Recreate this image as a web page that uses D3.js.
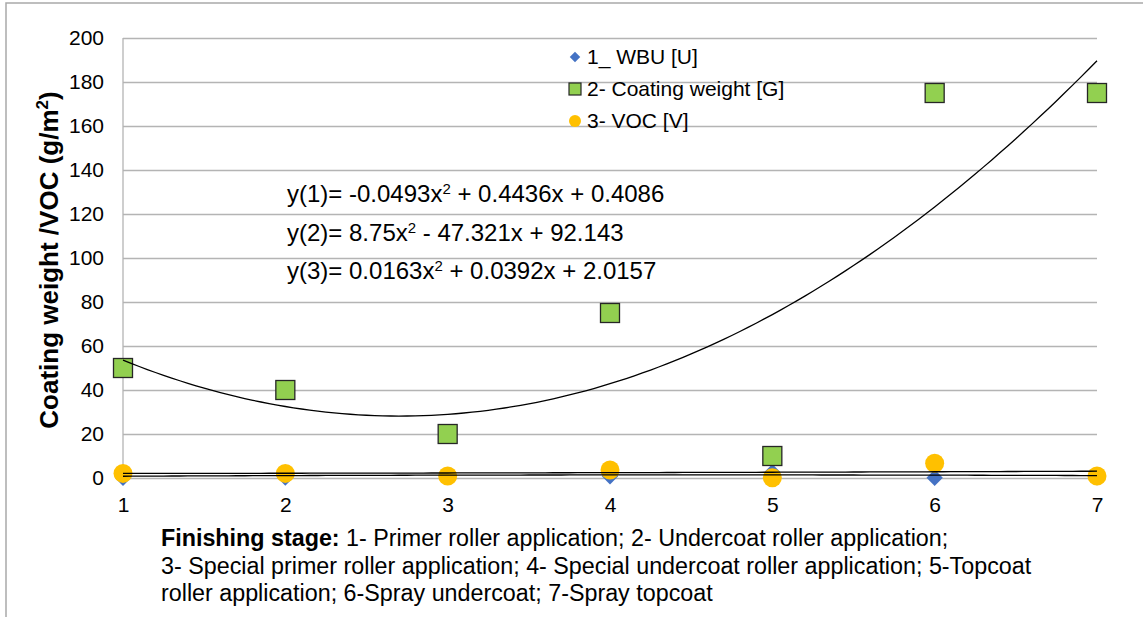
<!DOCTYPE html>
<html>
<head>
<meta charset="utf-8">
<title>Coating weight / VOC by finishing stage</title>
<style>
  body { margin: 0; background: #fff; }
  svg { display: block; font-family: Arial, "Liberation Sans", sans-serif; }
</style>
</head>
<body>
<svg width="1143" height="617"></svg>
<script src="https://d3js.org/d3.v7.min.js"></script>
<script>

var stages = [1, 2, 3, 4, 5, 6, 7];
var wbu = [0.1, 0.2, 1.2, 0.8, 2.6, 0.1, 0.3];
var coatingWeight = [50, 40, 20, 75, 10, 175, 175];
var voc = [2.1, 2.1, 0.9, 3.6, 0.1, 6.7, 0.9];

// polynomial trendlines as printed on the chart: a*x^2 + b*x + c
var trendCoefs = [
  [-0.0493, 0.4436, 0.4086],
  [8.75, -47.321, 92.143],
  [0.0163, 0.0392, 2.0157]
];

var yTicks = [0, 20, 40, 60, 80, 100, 120, 140, 160, 180, 200];
var legendLabels = ["1_ WBU [U]", "2- Coating weight [G]", "3- VOC [V]"];
var captionLines = [
  " 1- Primer roller application; 2- Undercoat roller application;",
  "3- Special primer roller application; 4- Special undercoat roller application; 5-Topcoat",
  "roller application; 6-Spray undercoat; 7-Spray topcoat"
];

var svg = d3.select("svg");

var x = d3.scaleLinear().domain([1, 7]).range([123, 1097]),
    y = d3.scaleLinear().domain([0, 200]).range([478, 38]);

var gridColor = "#b4b4b4";

// outer frame (only top and left edges show)
svg.append("path")
    .attr("d", "M6,617V3H1143")
    .attr("fill", "none")
    .attr("stroke", "#a9a9a9")
    .attr("stroke-width", 1.5);

// gridlines
var grid = svg.append("g")
    .attr("transform", "translate(" + x(1) + ",0)")
    .call(d3.axisLeft(y).tickValues(yTicks).tickSize(-(x(7) - x(1))).tickFormat(""));
grid.select(".domain").remove();
grid.selectAll("line").attr("stroke", gridColor).attr("stroke-width", 1.3);

svg.append("line")
    .attr("x1", x(1)).attr("x2", x(1))
    .attr("y1", y(200)).attr("y2", y(0))
    .attr("stroke", gridColor).attr("stroke-width", 1.3);

// y tick labels
var yAxis = svg.append("g")
    .attr("transform", "translate(" + x(1) + ",0)")
    .call(d3.axisLeft(y).tickValues(yTicks).tickSize(0).tickPadding(19));
yAxis.select(".domain").remove();
yAxis.selectAll("text").attr("font-size", 21).attr("fill", "#000").attr("font-family", null);

// x tick labels
var xAxis = svg.append("g")
    .attr("transform", "translate(0," + y(0) + ")")
    .call(d3.axisBottom(x).tickValues(stages).tickFormat(d3.format("d")).tickSize(0).tickPadding(19));
xAxis.select(".domain").remove();
xAxis.selectAll("text").attr("font-size", 21).attr("fill", "#000").attr("font-family", null);

// markers
var diamond = d3.symbol().type(d3.symbolDiamond2).size(170);

svg.append("g").selectAll("path")
  .data(stages)
  .join("path")
    .attr("d", diamond)
    .attr("transform", function(d, i) { return "translate(" + x(d) + "," + y(wbu[i]) + ")"; })
    .attr("fill", "#4472c4");

var sq = 19;
svg.append("g").selectAll("rect")
  .data(stages)
  .join("rect")
    .attr("x", function(d) { return x(d) - sq / 2; })
    .attr("y", function(d, i) { return y(coatingWeight[i]) - sq / 2; })
    .attr("width", sq).attr("height", sq)
    .attr("fill", "#92d050")
    .attr("stroke", "#262626")
    .attr("stroke-width", 1.3);

svg.append("g").selectAll("circle")
  .data(stages)
  .join("circle")
    .attr("cx", function(d) { return x(d); })
    .attr("cy", function(d, i) { return y(voc[i]); })
    .attr("r", 9.5)
    .attr("fill", "#ffc000");

// trendlines
var xs = d3.range(0, 121).map(function(k) { return 1 + k * 6 / 120; });
var line = d3.line()
    .x(function(d) { return x(d[0]); })
    .y(function(d) { return y(d[1]); });

svg.append("g").selectAll("path")
  .data(trendCoefs)
  .join("path")
    .attr("d", function(c) {
      return line(xs.map(function(v) { return [v, c[0] * v * v + c[1] * v + c[2]]; }));
    })
    .attr("fill", "none")
    .attr("stroke", "#000")
    .attr("stroke-width", 1.3);

// trendline equations
function term(c, first) {
  if (first) return String(c);
  return (c < 0 ? " - " : " + ") + String(Math.abs(c));
}
var eq = svg.append("g").attr("font-size", 24);
trendCoefs.forEach(function(c, i) {
  var t = eq.append("text").attr("x", 287).attr("y", [202, 241, 279][i]);
  t.append("tspan").text("y(" + (i + 1) + ")= " + term(c[0], true) + "x");
  t.append("tspan").attr("font-size", 15).attr("dy", -8).text("2");
  t.append("tspan").attr("dy", 8).text(term(c[1]) + "x" + term(c[2]));
});

// legend
var lg = svg.append("g").attr("font-size", 21);
var ly = [57, 89, 121];
lg.append("path")
    .attr("d", d3.symbol().type(d3.symbolDiamond2).size(70))
    .attr("transform", "translate(575," + ly[0] + ")")
    .attr("fill", "#4472c4");
lg.append("rect")
    .attr("x", 569).attr("y", ly[1] - 6).attr("width", 12).attr("height", 12)
    .attr("fill", "#92d050").attr("stroke", "#262626").attr("stroke-width", 1.2);
lg.append("circle")
    .attr("cx", 575).attr("cy", ly[2]).attr("r", 6)
    .attr("fill", "#ffc000");
lg.selectAll("text")
  .data(legendLabels)
  .join("text")
    .attr("x", 587)
    .attr("y", function(d, i) { return ly[i]; })
    .attr("dy", "0.35em")
    .text(function(d) { return d; });

// y axis title
var yt = svg.append("text")
    .attr("transform", "translate(58,260) rotate(-90)")
    .attr("text-anchor", "middle")
    .attr("font-size", 26)
    .attr("font-weight", "bold");
yt.append("tspan").text("Coating weight /VOC (g/m");
yt.append("tspan").attr("font-size", 17).attr("dy", -10).text("2");
yt.append("tspan").attr("dy", 10).text(")");

// caption
var cap = svg.append("g").attr("font-size", 23.3);
var capY = [546, 574, 601];
captionLines.forEach(function(s, i) {
  var t = cap.append("text").attr("x", 161).attr("y", capY[i]);
  if (i === 0) t.append("tspan").attr("font-weight", "bold").text("Finishing stage:");
  t.append("tspan").text(s);
});

</script>
</body>
</html>
